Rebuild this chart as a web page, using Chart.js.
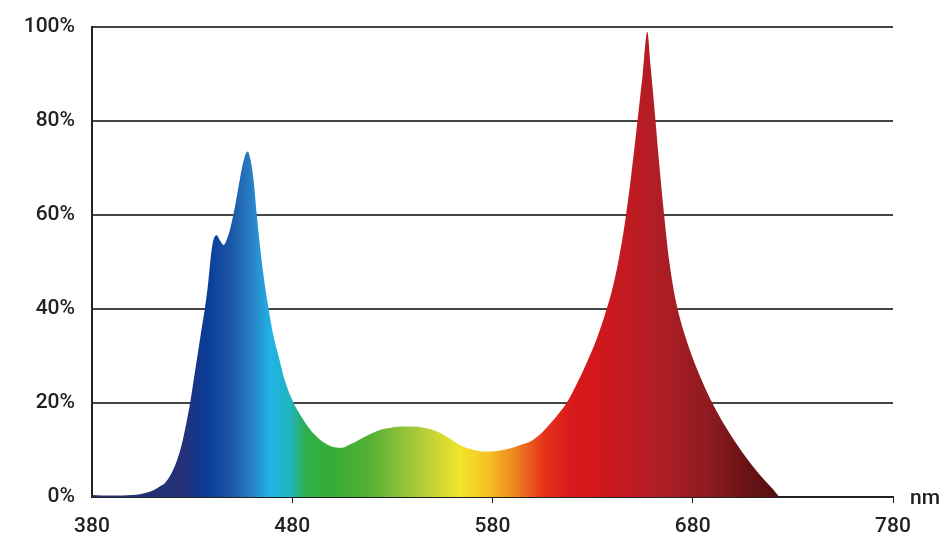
<!DOCTYPE html>
<html>
<head>
<meta charset="utf-8">
<script src="https://cdn.jsdelivr.net/npm/chart.js@4.4.1/dist/chart.umd.min.js"></script>
<style>
  html, body { margin: 0; padding: 0; background: #fff; }
  #wrap { width: 940px; height: 542px; }
</style>
</head>
<body>
<div id="wrap"><canvas id="chart-area" width="940" height="542"></canvas></div>
<script>
// wavelengths (nm) and relative intensity (%)
var wavelengths = [380, 385, 390, 395, 400, 404, 408, 411, 414, 416.5, 419, 421, 423, 425, 427, 429, 431, 433, 435, 436.5,
    438, 439.3, 440.5, 442.3, 444, 445.7, 447.5, 449, 451.5, 454, 456, 457.7, 459.3, 460.7, 462.3, 464, 466, 468.2, 470.5, 473.2,
    476.5, 480.7, 485, 489, 493, 497, 501, 505, 509, 513, 517, 521, 525, 530, 535, 540, 545, 550, 554, 558,
    562, 566, 570, 575, 580, 585, 590, 595, 600, 604, 608, 612, 617, 622, 627, 632, 636, 640, 643, 646,
    649, 652, 655, 657.3, 659, 661, 663, 665.7, 668, 670.5, 673, 676, 680, 684, 688, 692, 697, 702, 707, 712,
    716, 720, 724, 780];
var intensity = [0.4, 0.3, 0.3, 0.3, 0.4, 0.6, 1.0, 1.5, 2.3, 3.0, 4.5, 6.2, 8.5, 11.5, 15.5, 20, 25.5, 31, 36.5, 40.5,
    45.5, 51, 54.5, 55.7, 54.5, 53.6, 55, 57, 62, 68, 72, 73.5, 71.5, 67.4, 60, 53, 46, 40, 34.5, 29.9,
    24.5, 20, 16.8, 14.3, 12.5, 11.3, 10.6, 10.5, 11.2, 12.1, 13, 13.8, 14.4, 14.8, 15, 15, 14.8, 14.3, 13.6, 12.6,
    11.5, 10.6, 10.1, 9.7, 9.7, 10, 10.5, 11.2, 12.1, 13.4, 15.2, 17.2, 20, 24, 28.5, 33.6, 38.6, 44.5, 50.5, 58,
    67.5, 78.5, 90, 99, 91.5, 82, 72, 60, 51, 44, 39, 34.5, 29.5, 25.3, 21.5, 18.2, 14.5, 11.2, 8.2, 5.5,
    3.5, 1.7, 0, 0];
var xTicks = [380, 480, 580, 680, 780];
var yTicks = [0, 20, 40, 60, 80, 100];

// spectrum colours along the x axis
var stopNm = [380, 426, 437, 450, 459, 469, 479, 487, 500, 519, 540, 564, 577, 589, 605, 619, 629, 662, 687, 707, 726];
var stopColor = ['#26306a', '#23307a', '#0a3b96', '#1b58a8', '#2a7cc4', '#20b3e6', '#20b4c0', '#30ae48', '#35ad38',
    '#55b133', '#a0c83a', '#f3e42d', '#f5c424', '#f0901e', '#e5361b', '#d8191b', '#d4171b', '#b01e25', '#901b20',
    '#6a1214', '#4f0e10'];

var labelFont = 'Roboto, "Liberation Sans", Arial, sans-serif';

function spectrum(context) {
    var chart = context.chart;
    var area = chart.chartArea;
    if (!area) return '#d4171b';
    var x = chart.scales.x;
    var g = chart.ctx.createLinearGradient(x.getPixelForValue(380), 0, x.getPixelForValue(780), 0);
    for (var i = 0; i < stopNm.length; i++) {
        g.addColorStop((stopNm[i] - 380) / 400, stopColor[i]);
    }
    return g;
}

var nmLabel = {
    id: 'nmLabel',
    afterDraw: function(chart) {
        var c = chart.ctx;
        c.save();
        c.font = '500 21px ' + labelFont;
        c.fillStyle = '#222';
        c.textBaseline = 'middle';
        c.fillText('nm', chart.chartArea.right + 17, chart.chartArea.bottom + 2);
        c.restore();
    }
};

var points = wavelengths.map(function(w, i) { return { x: w, y: intensity[i] }; });

var ctx = document.getElementById('chart-area').getContext('2d');
var config = {
    type: 'line',
    data: {
        datasets: [{
            data: points,
            fill: 'origin',
            backgroundColor: spectrum,
            borderWidth: 0,
            pointRadius: 0,
            cubicInterpolationMode: 'monotone'
        }]
    },
    options: {
        responsive: false,
        animation: false,
        layout: { padding: { left: 0, right: 47, top: 27, bottom: 0 } },
        plugins: { legend: { display: false }, tooltip: { enabled: false } },
        scales: {
            x: {
                type: 'linear',
                min: 380,
                max: 780,
                afterBuildTicks: function(scale) { scale.ticks = xTicks.map(function(v) { return { value: v }; }); },
                afterFit: function(scale) { scale.height = 45; },
                border: { color: '#222', width: 2 },
                grid: {
                    drawOnChartArea: false,
                    tickLength: 6,
                    color: function(c) { return c.index === 0 ? 'rgba(0,0,0,0)' : '#222'; }
                },
                ticks: {
                    color: '#222',
                    padding: 11,
                    maxRotation: 0,
                    font: { family: labelFont, size: 21, weight: '500' }
                }
            },
            y: {
                min: 0,
                max: 100,
                afterBuildTicks: function(scale) { scale.ticks = yTicks.map(function(v) { return { value: v }; }); },
                afterFit: function(scale) {
                    scale.width = 92;
                    scale.paddingTop = 0;
                    scale.paddingBottom = 0;
                },
                border: { color: '#222', width: 2 },
                grid: { color: '#444', lineWidth: 2, drawTicks: false },
                ticks: {
                    color: '#222',
                    padding: 17,
                    font: { family: labelFont, size: 21, weight: '500' },
                    callback: function(v) { return v + '%'; }
                }
            }
        }
    },
    plugins: [nmLabel]
};
window.myChart = new Chart(ctx, config);
</script>
</body>
</html>
